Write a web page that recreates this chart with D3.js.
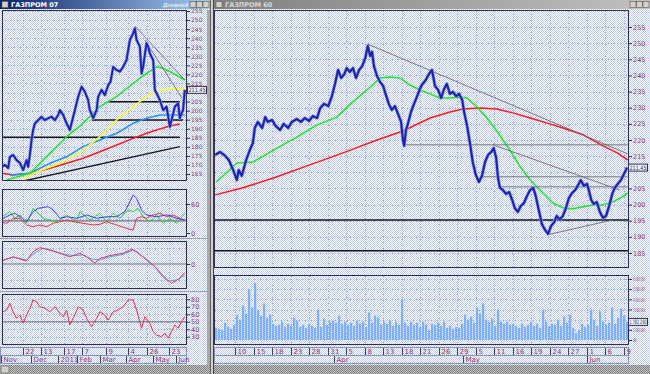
<!DOCTYPE html>
<html>
<head>
<meta charset="utf-8">
<script src="https://cdn.jsdelivr.net/npm/d3@7"></script>
<style>
body { margin: 0; background: #d4d0c8; }
svg { display: block; }
text { font-family: "DejaVu Sans", sans-serif; font-size: 7px; }
</style>
</head>
<body>
<svg width="650" height="374"></svg>
<script>
// ---------- left window (daily) ----------
var leftTickLabels = ["22", "13", "17", "7", "9", "4", "26", "23"];
var leftTickDays = [0, 15, 34, 49, 69, 87, 103, 121];
var leftMonths = ["Nov", "Dec", "2011", "Feb", "Mar", "Apr", "May", "Jun"];
var leftMonthDays = [-17.5, 7, 29, 45, 64, 85, 108, 127];
var leftPriceTicks = [255, 250, 245, 240, 235, 230, 225, 220, 215, 205, 200, 195, 190, 185, 180, 175, 170, 165];

var leftPrice = [[-17.3,169.0],[-14.6,170.0],[-11.9,168.3],[-10.5,174.4],[-7.8,175.5],[-5.0,172.7],[-2.2,171.1],[0.5,167.2],[3.3,172.7],[4.6,169.0],[6.0,175.5],[7.4,183.8],[8.7,189.3],[10.2,193.0],[12.9,194.8],[15.7,196.6],[18.4,194.8],[21.1,195.8],[23.9,196.6],[26.7,194.8],[29.4,197.6],[30.8,200.3],[33.5,197.6],[36.3,193.0],[39.0,189.3],[40.4,193.0],[43.2,200.3],[45.9,207.7],[48.7,213.2],[51.4,210.4],[54.1,205.9],[55.5,200.3],[58.3,195.8],[61.1,200.3],[62.4,207.7],[65.2,211.4],[67.9,208.6],[70.7,214.1],[72.6,216.0],[74.8,224.2],[77.6,222.4],[80.3,221.5],[83.0,224.2],[85.8,227.9],[88.6,239.0],[91.3,242.7],[92.7,245.4],[94.1,239.0],[96.8,235.3],[98.2,220.6],[99.5,224.2],[102.3,237.2],[103.7,235.3],[105.1,231.6],[107.8,227.9],[109.2,211.4],[110.6,209.6],[113.3,205.9],[116.0,200.3],[118.9,202.2],[120.2,196.6],[121.6,191.1],[123.0,194.8],[125.7,202.2],[128.4,204.0],[129.8,195.8],[131.2,198.5],[132.5,200.3],[133.9,211.45]];
var leftGreen = [[-13.2,161.7],[6.0,165.4],[22.5,176.4],[36.3,185.6],[50.0,193.0],[63.8,202.2],[77.6,207.7],[91.3,215.1],[102.3,220.6],[110.6,224.2],[116.0,223.4],[124.3,220.6],[133.9,216.9]];
var leftYellow = [[-2.2,160.7],[8.7,165.4],[30.8,170.9],[50.0,178.2],[63.8,185.6],[77.6,194.8],[91.3,202.2],[102.3,207.7],[110.6,211.0],[121.6,211.8],[133.9,212.3]];
var leftBlue = [[-10.5,164.4],[6.0,165.4],[22.5,170.9],[36.3,174.5],[50.0,180.1],[63.8,183.8],[77.6,187.5],[91.3,193.0],[102.3,195.8],[113.3,197.6],[121.6,197.6],[133.9,197.6]];
var leftRed = [[-17.3,165.4],[-7.8,164.4],[6.0,165.4],[22.5,168.1],[36.3,170.9],[50.0,173.7],[63.8,177.3],[77.6,181.0],[91.3,184.7],[102.3,187.5],[110.6,189.3],[121.6,191.5],[129.8,192.6]];
// [day1, price1, day2, price2]
var leftBlackLines = [[-2.2,160.7,129.8,180.1],[-18,185.3,129.8,185.3],[57,194.8,132.5,194.8],[70.7,204.9,129.8,204.9]];
var leftGrayLines = [[92.7,246.7,133.9,216.9],[101,239.0,131.5,207.0]];

// directional movement panel
var dmiTicks = [60, 0];
var dmiBlue = [[-18.7,26.9],[-10.5,37.3],[-6.4,40.8],[-2.2,33.7],[3.3,23.4],[8.7,44.1],[12.9,51.1],[21.1,54.5],[25.3,47.6],[30.8,30.4],[36.3,33.7],[44.6,30.4],[52.8,37.3],[61.1,30.4],[69.3,33.7],[77.6,33.7],[84.4,44.1],[88.6,64.8],[91.3,78.7],[94.1,71.8],[98.2,47.6],[102.3,37.3],[110.6,33.7],[118.9,37.3],[127.1,30.4],[133.9,26.9]];
var dmiGreen = [[-18.7,30.4],[-10.5,44.1],[-6.4,30.4],[-2.2,37.3],[3.3,20.1],[8.7,51.1],[17.0,30.4],[22.5,26.9],[28.1,23.4],[36.3,37.3],[44.6,23.4],[47.3,44.1],[55.5,26.9],[63.8,40.8],[69.3,23.4],[74.8,40.8],[80.3,30.4],[87.2,47.6],[91.3,44.1],[95.4,51.1],[99.5,33.7],[105.1,23.4],[110.6,37.3],[116.0,20.1],[121.6,30.4],[127.1,20.1],[133.9,40.8]];
var dmiRed = [[-18.7,23.4],[-13.2,20.1],[-7.8,30.4],[-2.2,30.4],[3.3,16.6],[8.7,13.0],[14.3,16.6],[19.8,13.0],[25.3,20.1],[30.8,23.4],[36.3,26.9],[41.8,23.4],[50.0,20.1],[58.3,16.6],[63.8,18.0],[69.3,23.4],[77.6,16.6],[85.8,9.7],[91.3,6.2],[94.1,30.4],[98.2,33.7],[102.3,30.4],[107.8,37.3],[113.3,40.8],[118.9,33.7],[124.3,37.3],[129.8,30.4],[133.9,26.9]];
var dmiLevel = 25;

// MACD panel
var macdTicks = [0];
var macdRed = [[-18.7,0.6],[-7.8,1.8],[3.3,0.75],[8.7,3.1],[14.3,4.1],[22.5,3.5],[30.8,2.7],[39.0,1.8],[47.3,2.7],[52.8,1.8],[59.7,0.2],[63.8,1.4],[72.1,2.1],[83.0,2.7],[90.0,3.7],[94.1,3.1],[102.3,1.0],[109.2,-0.7],[116.0,-3.2],[123.0,-4.8],[129.8,-3.6],[133.9,-2.1]];
var macdBlue = [[-18.7,0.75],[-7.8,1.7],[3.3,1.0],[11.5,3.1],[17.0,3.9],[25.3,3.25],[33.5,2.5],[41.8,2.1],[50.0,2.25],[56.9,1.25],[63.8,1.0],[72.1,1.8],[83.0,2.4],[91.3,3.5],[96.8,2.4],[105.1,0.6],[113.3,-1.9],[120.2,-4.25],[127.1,-4.0],[133.9,-2.75]];

// RSI panel
var rsiTicks = [80, 70, 60, 50, 40, 30];
var rsi = [[-18.7,61.3],[-16.0,63.4],[-13.2,65.7],[-10.5,74.7],[-7.8,63.4],[-5.0,54.6],[-2.2,59.0],[0.5,47.9],[3.3,59.0],[6.0,68.0],[8.7,79.1],[11.6,76.8],[14.3,70.1],[18.4,68.0],[22.5,63.4],[26.7,70.1],[30.8,61.3],[33.5,56.7],[36.3,65.7],[39.0,45.6],[41.8,54.6],[45.9,70.1],[50.0,65.7],[52.8,54.6],[56.9,43.4],[61.1,54.6],[63.8,63.4],[67.9,59.0],[70.7,52.3],[74.8,63.4],[78.9,65.7],[83.0,70.1],[87.2,79.1],[91.3,79.1],[94.1,65.7],[98.2,41.2],[101.0,56.7],[105.1,47.9],[107.8,36.7],[110.6,32.3],[114.7,30.0],[117.4,34.5],[120.2,27.9],[123.0,36.7],[125.7,45.6],[128.4,41.2],[131.2,50.1],[133.9,56.7]];
var rsiLevel = 50;

// ---------- right window (hourly) ----------
var rightTickLabels = ["10","15","18","23","28","31","5","8","13","18","21","26","29","5","11","16","19","24","27","1","6","9"];
var rightMonths = ["Apr", "May", "Jun"];
var rightMonthDays = [16, 37, 57];
var rightPriceTicks = [255, 250, 245, 240, 235, 230, 225, 220, 215, 205, 200, 195, 190, 185];

var rightPrice = [[-3.2,215.4],[-2.4,216.3],[-1.6,215.1],[-1.0,213.8],[-0.3,210.7],[0.3,207.6],[0.6,210.7],[1.1,208.9],[1.8,213.8],[2.4,216.9],[2.9,219.1],[3.2,223.7],[3.7,225.6],[4.4,223.7],[4.9,227.1],[5.3,225.6],[6.0,226.2],[6.6,224.3],[7.3,223.1],[7.9,225.0],[8.6,223.7],[9.2,225.6],[10.0,226.5],[10.7,225.6],[11.3,226.8],[12.0,225.9],[12.6,227.4],[13.3,226.8],[13.8,229.9],[14.4,231.2],[15.1,230.5],[15.7,233.6],[16.2,237.4],[16.7,241.7],[17.2,239.2],[17.7,240.4],[18.1,242.3],[18.6,241.1],[19.1,242.3],[19.6,239.2],[20.1,241.7],[20.6,242.9],[21.1,245.4],[21.5,249.1],[21.9,246.0],[22.2,247.3],[22.5,242.9],[23.0,239.8],[23.5,238.0],[24.0,236.7],[24.5,233.6],[24.9,231.2],[25.4,229.3],[25.9,230.5],[26.4,228.1],[26.9,225.6],[27.2,220.0],[27.4,218.2],[27.7,223.1],[28.0,225.0],[28.5,228.7],[29.0,231.2],[29.5,233.6],[30.0,236.1],[30.4,237.4],[30.9,238.6],[31.4,240.4],[31.9,241.7],[32.4,236.7],[32.9,235.5],[33.4,233.0],[33.8,235.5],[34.3,237.4],[34.8,234.3],[35.3,234.9],[35.8,233.6],[36.3,234.3],[36.8,232.4],[37.1,228.7],[37.6,224.3],[38.1,218.5],[38.5,213.2],[39.0,209.2],[39.5,207.0],[40.0,208.9],[40.5,213.2],[41.0,215.4],[41.5,216.3],[41.9,217.5],[42.3,214.4],[42.6,208.3],[42.9,205.2],[43.4,204.5],[43.9,203.3],[44.4,203.9],[44.9,201.4],[45.3,199.0],[45.8,197.7],[46.3,199.6],[46.8,200.5],[47.3,202.7],[47.8,204.5],[48.3,205.2],[48.7,202.7],[49.2,198.3],[49.7,194.0],[50.2,192.2],[50.7,190.9],[51.2,193.4],[51.7,194.6],[52.1,196.5],[52.6,195.3],[53.1,196.5],[53.6,199.0],[54.1,202.1],[54.6,203.6],[55.1,204.5],[55.5,205.8],[56.0,207.6],[56.5,205.8],[57.0,206.4],[57.3,204.5],[57.7,201.4],[58.1,200.2],[58.6,200.8],[59.1,197.7],[59.6,195.9],[60.1,196.5],[60.6,199.6],[61.1,203.3],[61.5,205.2],[62.0,206.4],[62.5,207.6],[63.0,209.5],[63.5,211.45]];
var rightGreen = [[-3.0,207.0],[0.3,212.9],[2.9,213.2],[6.8,217.5],[10.0,220.9],[13.3,224.7],[16.5,227.1],[19.1,231.8],[21.9,236.4],[23.5,239.2],[25.1,239.5],[26.7,239.2],[28.3,237.0],[30.0,235.5],[31.6,234.3],[33.2,233.0],[34.8,233.0],[36.4,233.3],[37.6,233.0],[39.2,230.2],[40.8,226.8],[42.4,222.8],[44.5,216.9],[46.2,211.7],[47.8,207.6],[49.4,204.5],[51.5,200.5],[53.1,199.0],[54.7,198.7],[56.4,199.3],[58.0,199.9],[59.6,199.9],[61.2,200.8],[62.7,202.4],[63.6,203.6]];
var rightRed = [[-3.2,203.0],[1.3,205.2],[6.8,208.6],[12.1,212.3],[17.5,216.0],[23.0,220.0],[27.2,222.8],[31.6,226.8],[34.8,228.7],[36.9,229.6],[39.7,229.9],[42.4,229.6],[45.0,228.4],[47.8,226.8],[51.0,225.0],[53.1,223.7],[56.4,221.6],[59.6,218.2],[61.9,216.0],[63.6,213.8]];
var rightGrayLines = [[21.5,249.7,63.6,215.7],[27.4,218.5,63.6,218.5],[41.8,218.5,62.3,204.5],[40.0,208.6,63.6,208.6],[42.6,205.5,63.6,205.5],[50.5,190.6,61.1,195.2]];
var rightBlackLines = [[-3.3,195.2,63.7,195.2],[-3.3,185.7,63.7,185.7]];

// volume, millions
var volumeTicks = [6, 5, 4, 3, 1, 0];
var volume = [1.2,1.1,1.0,1.7,1.3,1.1,1.5,2.5,2.0,3.4,2.6,5.0,3.2,5.6,2.9,2.4,3.6,2.2,2.5,1.6,1.4,1.5,1.8,1.3,1.6,1.4,2.2,1.9,1.3,1.5,1.2,1.6,1.4,1.2,3.0,1.3,2.1,1.5,1.8,1.9,1.7,2.4,1.6,1.8,1.5,1.7,1.4,1.9,1.6,1.8,1.3,2.7,1.7,2.4,2.2,1.5,1.8,1.6,1.9,1.4,1.8,1.5,4.0,1.7,1.4,1.8,1.5,1.7,1.3,1.8,1.5,1.0,
  1.6,1.5,1.7,1.4,1.8,1.2,1.4,1.1,1.3,1.2,1.6,2.5,2.0,2.3,1.7,3.2,2.6,3.6,2.0,1.8,2.1,1.4,3.0,1.8,1.6,1.8,1.5,1.6,1.4,1.2,1.6,1.3,1.5,1.8,1.4,1.6,1.2,3.0,1.8,1.4,1.6,1.5,2.0,1.4,2.3,1.7,2.5,1.2,0.7,1.0,1.6,1.3,1.5,3.0,2.0,1.4,2.8,1.8,1.5,1.7,3.2,1.6,2.2,3.1,2.4,1.8];

var svg = d3.select("svg");
var labelColor = "#8a3a5a";
var frameColor = "#2c2c58";
var gridColor = "#98a6d4";

// ---------- patterns ----------
var defs = svg.append("defs");
function dither(id, c1, c2) {
    var p = defs.append("pattern").attr("id", id)
        .attr("width", 2).attr("height", 2).attr("patternUnits", "userSpaceOnUse");
    p.append("rect").attr("width", 2).attr("height", 2).attr("fill", c1);
    p.append("rect").attr("width", 1).attr("height", 1).attr("fill", c2);
    p.append("rect").attr("x", 1).attr("y", 1).attr("width", 1).attr("height", 1).attr("fill", c2);
}
dither("blueDither", "#ffffff", "#bccaf2");
dither("grayDither", "#c8c8c8", "#7c7c7c");

function gradient(id, c1, c2) {
    var g = defs.append("linearGradient").attr("id", id);
    g.append("stop").attr("offset", "0%").attr("stop-color", c1);
    g.append("stop").attr("offset", "100%").attr("stop-color", c2);
}
gradient("activeTitle", "#0a246a", "#a6caf0");
gradient("inactiveTitle", "#808080", "#c0c0c0");

var clipCount = 0;
function clipRect(x, y, w, h) {
    var id = "clip" + (clipCount++);
    defs.append("clipPath").attr("id", id)
        .append("rect").attr("x", x).attr("y", y).attr("width", w).attr("height", h);
    return "url(#" + id + ")";
}

// ---------- window chrome ----------
svg.append("rect").attr("width", 650).attr("height", 374).attr("fill", "url(#blueDither)");
svg.append("rect").attr("x", 0).attr("y", 365).attr("width", 650).attr("height", 9).attr("fill", "url(#grayDither)");
svg.append("rect").attr("x", 1).attr("y", 366).attr("width", 8).attr("height", 7).attr("fill", "#d4d0c8").attr("stroke", "#808080");
svg.append("rect").attr("x", 207).attr("y", 10).attr("width", 3).attr("height", 355).attr("fill", "#a8a8a8");
svg.append("rect").attr("x", 210).attr("y", 0).attr("width", 4).attr("height", 374).attr("fill", "#d4d0c8");
svg.append("line").attr("x1", 210.5).attr("x2", 210.5).attr("y1", 0).attr("y2", 374).attr("stroke", "#606060");
svg.append("line").attr("x1", 213.5).attr("x2", 213.5).attr("y1", 0).attr("y2", 374).attr("stroke", "#404040");

function titleBar(x, w, fill, title, textColor, extra) {
    svg.append("rect").attr("x", x).attr("y", 0).attr("width", w).attr("height", 9).attr("fill", fill);
    svg.append("rect").attr("x", x + 2).attr("y", 1.5).attr("width", 6).attr("height", 6)
        .attr("fill", "#d4d0c8").attr("stroke", "#505050").attr("stroke-width", 0.5);
    svg.append("text").attr("x", x + 11).attr("y", 7).attr("fill", textColor)
        .attr("font-weight", "bold").style("font-size", "6.5px").text(title);
    if (extra) {
        svg.append("text").attr("x", x + w - 47).attr("y", 7).attr("fill", "#ffffff")
            .attr("font-style", "italic").style("font-size", "5.5px").text(extra);
    }
    [0, 1, 2].forEach(function (i) {
        svg.append("rect").attr("x", x + w - 20 + i * 6.5).attr("y", 1.5).attr("width", 6).attr("height", 6)
            .attr("fill", "#d4d0c8").attr("stroke", "#404040").attr("stroke-width", 0.5);
    });
}
titleBar(0, 210, "url(#activeTitle)", "ГАЗПРОМ 07", "#ffffff", "Дневной");
titleBar(214, 436, "url(#inactiveTitle)", "ГАЗПРОМ 60", "#d8d8d8", null);

// ---------- helpers ----------
function drawGrid(xs, ys, x0, x1, y0, y1) {
    var g = svg.append("g");
    xs.forEach(function (x) {
        g.append("line").attr("x1", x).attr("x2", x).attr("y1", y0).attr("y2", y1)
            .attr("stroke", gridColor).attr("stroke-dasharray", "1,2");
    });
    ys.forEach(function (y) {
        g.append("line").attr("x1", x0).attr("x2", x1).attr("y1", y).attr("y2", y)
            .attr("stroke", gridColor).attr("stroke-dasharray", "1,2");
    });
}

function drawLine(data, x, y, color, width, clip) {
    var line = d3.line()
        .x(function (d) { return x(d[0]); })
        .y(function (d) { return y(d[1]); });
    svg.append("path").datum(data).attr("d", line).attr("fill", "none")
        .attr("stroke", color).attr("stroke-width", width)
        .attr("stroke-linejoin", "round").attr("clip-path", clip);
}

function drawSegments(segs, x, y, color, width, clip) {
    svg.append("g").attr("clip-path", clip).selectAll("line").data(segs).enter().append("line")
        .attr("x1", function (d) { return x(d[0]); })
        .attr("y1", function (d) { return y(d[1]); })
        .attr("x2", function (d) { return x(d[2]); })
        .attr("y2", function (d) { return y(d[3]); })
        .attr("stroke", color).attr("stroke-width", width);
}

function drawYAxis(scale, ticks, xEdge, fmt) {
    var axis = d3.axisRight(scale).tickValues(ticks).tickSize(3).tickPadding(1).tickFormat(fmt);
    var g = svg.append("g").attr("transform", "translate(" + xEdge + ",0)").call(axis);
    g.select(".domain").remove();
    g.selectAll("line").attr("stroke", frameColor);
    g.selectAll("text").attr("fill", labelColor).style("font-size", "6.5px")
        .attr("font-family", "DejaVu Sans, sans-serif");
    return g;
}

function frame(x0, x1, y0, y1) {
    svg.append("rect").attr("x", x0 + 0.5).attr("y", y0 + 0.5)
        .attr("width", x1 - x0 - 1).attr("height", y1 - y0 - 1)
        .attr("fill", "none").attr("stroke", frameColor);
}

function valueBox(x, y, w, label) {
    svg.append("rect").attr("x", x + 0.5).attr("y", y - 3.5).attr("width", w).attr("height", 7)
        .attr("fill", "#eef1fb").attr("stroke", "#303048");
    svg.append("text").attr("x", x + 1.5).attr("y", y + 2.2).attr("fill", "#303048")
        .attr("textLength", w - 2).attr("lengthAdjust", "spacingAndGlyphs")
        .style("font-size", "6px").text(label);
}

function timeRows(x, days, labels, months, monthDays, x0, x1, y0) {
    var g = svg.append("g");
    g.append("rect").attr("x", x0 + 0.5).attr("y", y0 + 0.5).attr("width", x1 - x0 - 1).attr("height", 8)
        .attr("fill", "none").attr("stroke", "#8890b8");
    g.append("rect").attr("x", x0 + 0.5).attr("y", y0 + 8.5).attr("width", x1 - x0 - 1).attr("height", 8)
        .attr("fill", "none").attr("stroke", "#8890b8");
    days.forEach(function (d, i) {
        var px = Math.round(x(d)) + 0.5;
        g.append("line").attr("x1", px).attr("x2", px).attr("y1", y0 + 1).attr("y2", y0 + 8).attr("stroke", "#404060");
        g.append("text").attr("x", px + 2).attr("y", y0 + 7).attr("fill", labelColor).text(labels[i]);
    });
    monthDays.forEach(function (d, i) {
        var px = Math.round(x(d)) + 0.5;
        g.append("line").attr("x1", px).attr("x2", px).attr("y1", y0 + 9).attr("y2", y0 + 16).attr("stroke", "#404060");
        g.append("text").attr("x", px + 2).attr("y", y0 + 15).attr("fill", labelColor).text(months[i]);
    });
}

// ---------- left window ----------
var lx = d3.scaleLinear().domain([-17, 134.9]).range([2, 186]);
var leftTickX = leftTickDays.map(function (d) { return Math.round(lx(d)) + 0.5; });

// price panel
var ly = d3.scaleLinear().domain([165, 255]).range([174, 11]);
var lClip = clipRect(2, 11, 184, 169);
drawGrid(leftTickX, leftPriceTicks.concat([210]).map(function (v) { return Math.round(ly(v)) + 0.5; }), 2, 186, 11, 180);
drawSegments(leftBlackLines, lx, ly, "#141414", 1.4, lClip);
drawLine(leftRed, lx, ly, "#ff1a1a", 1.5, lClip);
drawLine(leftBlue, lx, ly, "#2290ff", 1.5, lClip);
drawLine(leftYellow, lx, ly, "#ffff1e", 1.5, lClip);
drawLine(leftGreen, lx, ly, "#1ee61e", 1.5, lClip);
drawSegments(leftGrayLines, lx, ly, "#6a6a6a", 0.9, lClip);
drawLine(leftPrice, lx, ly, "#8c98e8", 3.2, lClip);
drawLine(leftPrice, lx, ly, "#1a22a8", 1.8, lClip);
frame(2, 187, 10, 181);
var lAxis = drawYAxis(ly, leftPriceTicks, 187, d3.format("d"));
lAxis.selectAll("text").style("font-size", "6px");
valueBox(187, ly(211.45), 19, "211.45");

// DMI panel
var dy = d3.scaleLinear().domain([0, 60]).range([233, 204]);
var dClip = clipRect(2, 190, 184, 46);
drawGrid(leftTickX, [dy(60), dy(30)].map(function (v) { return Math.round(v) + 0.5; }), 2, 186, 190, 236);
drawSegments([[-18, dmiLevel, 135, dmiLevel]], lx, dy, "#707080", 1.2, dClip);
drawLine(dmiGreen, lx, dy, "#22dd22", 1, dClip);
drawLine(dmiRed, lx, dy, "#ee3030", 1, dClip);
drawLine(dmiBlue, lx, dy, "#3a3aee", 1, dClip);
frame(2, 187, 189, 237);
drawYAxis(dy, dmiTicks, 187, d3.format("d"));

// MACD panel
var my = d3.scaleLinear().domain([-5.5, 5.5]).range([286, 242]);
var mClip = clipRect(2, 242, 184, 46);
drawGrid(leftTickX, [my(4), my(-4)].map(function (v) { return Math.round(v) + 0.5; }), 2, 186, 242, 288);
drawSegments([[-18, 0, 135, 0]], lx, my, "#707080", 1.2, mClip);
drawLine(macdBlue, lx, my, "#4aa8f0", 1, mClip);
drawLine(macdRed, lx, my, "#ee3050", 1, mClip);
frame(2, 187, 241, 289);
drawYAxis(my, macdTicks, 187, d3.format("d"));

// RSI panel
var ry = d3.scaleLinear().domain([30, 80]).range([336.7, 299.3]);
var rClip = clipRect(2, 295, 184, 49);
drawGrid(leftTickX, rsiTicks.map(function (v) { return Math.round(ry(v)) + 0.5; }), 2, 186, 295, 344);
drawSegments([[-18, rsiLevel, 135, rsiLevel]], lx, ry, "#707080", 1.2, rClip);
drawLine(rsi, lx, ry, "#ee3030", 1, rClip);
frame(2, 187, 294, 345);
drawYAxis(ry, rsiTicks, 187, d3.format("d"));

// panel separators
[238, 291].forEach(function (y) {
    svg.append("line").attr("x1", 0).attr("x2", 207).attr("y1", y + 0.5).attr("y2", y + 0.5).attr("stroke", "#9aa0c0");
});
timeRows(lx, leftTickDays, leftTickLabels, leftMonths, leftMonthDays, 0, 187, 347);

// ---------- right window ----------
var rx = d3.scaleLinear().domain([-3.24, 63.65]).range([215, 628]);
var rightTickDays = rightTickLabels.map(function (l, i) { return i * 3; });
var rightTickX = rightTickDays.map(function (d) { return Math.round(rx(d)) + 0.5; });

var py = d3.scaleLinear().domain([185, 255]).range([253, 27]);
var pClip = clipRect(215, 11, 413, 256);
drawGrid(rightTickX, rightPriceTicks.concat([210]).map(function (v) { return Math.round(py(v)) + 0.5; }), 215, 628, 11, 267);
drawSegments(rightBlackLines, rx, py, "#141414", 1.4, pClip);
drawLine(rightRed, rx, py, "#ff1a1a", 1.5, pClip);
drawLine(rightGreen, rx, py, "#1ee61e", 1.5, pClip);
drawSegments(rightGrayLines, rx, py, "#6a6a6a", 0.9, pClip);
drawLine(rightPrice, rx, py, "#8c98e8", 3.4, pClip);
drawLine(rightPrice, rx, py, "#1a22a8", 2, pClip);
frame(214, 629, 10, 268);
drawYAxis(py, rightPriceTicks, 629, d3.format("d"));
valueBox(628, py(211.45), 19, "211.45");

// volume panel
var vx = d3.scaleBand().domain(d3.range(volume.length)).range([215, 629]).padding(0);
var vy = d3.scaleLinear().domain([0, 6]).range([340, 279]);
var vClip = clipRect(215, 276, 413, 68);
drawGrid(rightTickX, [6, 5, 4, 3, 2, 1].map(function (v) { return Math.round(vy(v)) + 0.5; }), 215, 628, 276, 344);
svg.append("g").attr("clip-path", vClip).selectAll("rect").data(volume).enter().append("rect")
    .attr("x", function (d, i) { return vx(i); })
    .attr("width", vx.bandwidth() * 0.75)
    .attr("y", function (d) { return vy(d); })
    .attr("height", function (d) { return vy(0) - vy(d); })
    .attr("fill", "#7fb0f4");
frame(214, 629, 275, 345);
var vAxis = drawYAxis(vy, volumeTicks, 629, function (v) { return v === 0 ? "0" : v + " 000 000"; });
vAxis.selectAll("text").attr("textLength", function (v) { return v === 0 ? null : 12; })
    .attr("lengthAdjust", "spacingAndGlyphs").style("font-size", "5.5px");
valueBox(628, vy(1.78), 19, "1 782 290");

timeRows(rx, rightTickDays, rightTickLabels, rightMonths, rightMonthDays, 214, 629, 347);
</script>
</body>
</html>
